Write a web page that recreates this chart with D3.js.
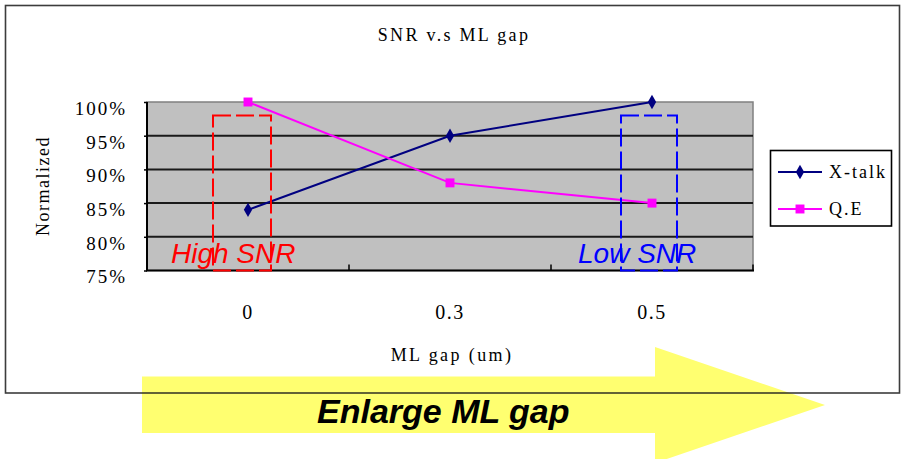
<!DOCTYPE html>
<html><head><meta charset="utf-8">
<script src="https://cdn.jsdelivr.net/npm/d3@7"></script>
<style>
html,body{margin:0;padding:0;background:#fff;}
svg{display:block;}
.serif{font-family:"Liberation Serif","Times New Roman",serif;fill:#000;}
</style></head>
<body>
<svg id="chart" width="902" height="459"></svg>
<script>
// ---- data ----
const categories = ["0", "0.3", "0.5"];
const xtalk = [0.84, 0.95, 1.00];
const qe = [1.00, 0.88, 0.85];
const yTicks = [0.75, 0.80, 0.85, 0.90, 0.95, 1.00];
const yTickLabels = ["75%", "80%", "85%", "90%", "95%", "100%"];
const seriesNames = ["X-talk", "Q.E"];
const title = "SNR v.s ML gap";
const xTitle = "ML gap (um)";
const yTitle = "Normalized";
const regionLabels = ["High SNR", "Low SNR"];
const arrowLabel = "Enlarge ML gap";

const svg = d3.select("#chart");
const W = 902, H = 459;

const plot = {left: 147, right: 753, top: 102, bottom: 270.5};
const x = d3.scaleBand().domain(categories).range([plot.left, plot.right]).padding(0);
const y = d3.scaleLinear().domain([0.75, 1.0]).range([plot.bottom, plot.top]);
const cx = c => x(c) + x.bandwidth() / 2;

// yellow arrow (drawn first, frame on top)
const arrow = {x0: 142, bodyTop: 376.5, bodyBot: 433, headX: 655, headTop: 347, headBot: 463, tipX: 825, tipY: 405};
svg.append("path")
  .attr("d", `M${arrow.x0},${arrow.bodyTop}L${arrow.headX},${arrow.bodyTop}L${arrow.headX},${arrow.headTop}L${arrow.tipX},${arrow.tipY}L${arrow.headX},${arrow.headBot}L${arrow.headX},${arrow.bodyBot}L${arrow.x0},${arrow.bodyBot}Z`)
  .attr("fill", "#ffff70");

// outer frame
svg.append("rect").attr("x", 5.5).attr("y", 5.5).attr("width", 894).attr("height", 387.5)
  .attr("fill", "none").attr("stroke", "#1a1a1a").attr("stroke-width", 1.6).attr("stroke-opacity", 0.85);

// plot background
svg.append("rect").attr("x", plot.left).attr("y", plot.top)
  .attr("width", plot.right - plot.left).attr("height", plot.bottom - plot.top)
  .attr("fill", "#c0c0c0").attr("stroke", "#808080").attr("stroke-width", 1.5);

// gridlines
svg.append("g").selectAll("line").data(yTicks.filter(v => v > 0.75 && v < 1.0)).join("line")
  .attr("x1", plot.left).attr("x2", plot.right)
  .attr("y1", d => y(d)).attr("y2", d => y(d))
  .attr("stroke", "#1a1a1a").attr("stroke-width", 2);

// axes lines
svg.append("line").attr("x1", plot.left).attr("x2", plot.left).attr("y1", plot.top).attr("y2", plot.bottom)
  .attr("stroke", "#000").attr("stroke-width", 2);
svg.append("line").attr("x1", plot.left - 1).attr("x2", plot.right + 1).attr("y1", plot.bottom).attr("y2", plot.bottom)
  .attr("stroke", "#000").attr("stroke-width", 2);

// y axis via d3
const yAxis = d3.axisLeft(y).tickValues(yTicks).tickSize(3).tickPadding(17)
  .tickFormat((d, i) => yTickLabels[i]);
const gy = svg.append("g").attr("transform", `translate(${plot.left},0)`).call(yAxis);
gy.select(".domain").remove();
gy.selectAll(".tick line").attr("stroke", "#000").attr("stroke-width", 1.5);
gy.selectAll(".tick text").attr("class", "serif").attr("font-size", 19).attr("letter-spacing", 2)
  .attr("dy", "0.65em").attr("fill", "#000");

// x axis via d3 (labels at category centers, ticks at band boundaries)
const xAxis = d3.axisBottom(x).tickSize(0).tickPadding(34);
const gx = svg.append("g").attr("transform", `translate(0,${plot.bottom})`).call(xAxis);
gx.select(".domain").remove();
gx.selectAll(".tick text").attr("class", "serif").attr("font-size", 20).attr("letter-spacing", 1.5).attr("fill", "#000");
// inner tick marks at boundaries
const bounds = categories.slice(1).map(c => x(c)).concat([plot.right]);
svg.append("g").selectAll("line").data(bounds).join("line")
  .attr("x1", d => d).attr("x2", d => d).attr("y1", plot.bottom).attr("y2", plot.bottom - 6)
  .attr("stroke", "#000").attr("stroke-width", 1.5);

// titles
svg.append("text").attr("class", "serif").attr("x", 454).attr("y", 41)
  .attr("text-anchor", "middle").attr("font-size", 18).attr("letter-spacing", 2.3).text(title);
svg.append("text").attr("class", "serif").attr("x", 452).attr("y", 361)
  .attr("text-anchor", "middle").attr("font-size", 18).attr("letter-spacing", 2.4).text(xTitle);
svg.append("text").attr("class", "serif")
  .attr("transform", "translate(49,186) rotate(-90)")
  .attr("text-anchor", "middle").attr("font-size", 18).attr("letter-spacing", 1.5).text(yTitle);

// series lines
const line = d3.line().x((d, i) => cx(categories[i])).y(d => y(d));
svg.append("path").datum(xtalk).attr("d", line).attr("fill", "none").attr("stroke", "#000080").attr("stroke-width", 2);
svg.append("path").datum(qe).attr("d", line).attr("fill", "none").attr("stroke", "#ff00ff").attr("stroke-width", 2);

// markers
const diamond = d3.symbol().type(d3.symbolDiamond).size(60);
const square = d3.symbol().type(d3.symbolSquare).size(80);
svg.append("g").selectAll("path").data(xtalk).join("path")
  .attr("d", diamond).attr("transform", (d, i) => `translate(${cx(categories[i])},${y(d)})`)
  .attr("fill", "#000080");
svg.append("g").selectAll("path").data(qe).join("path")
  .attr("d", square).attr("transform", (d, i) => `translate(${cx(categories[i])},${y(d)})`)
  .attr("fill", "#ff00ff");

// SNR region boxes (in data units)
const regions = [
  {cat: "0", offset: -6, halfW: 29, top: 0.98, color: "#ff0000", label: regionLabels[0], lx: 171},
  {cat: "0.5", offset: -3, halfW: 28, top: 0.98, color: "#0000ff", label: regionLabels[1], lx: 578}
];
regions.forEach(r => {
  const c = cx(r.cat) + r.offset;
  svg.append("rect").attr("x", c - r.halfW).attr("y", y(r.top))
    .attr("width", 2 * r.halfW).attr("height", plot.bottom - y(r.top))
    .attr("fill", "none").attr("stroke", r.color).attr("stroke-width", 2)
    .attr("stroke-dasharray", "18,5");
  svg.append("text").attr("x", r.lx).attr("y", 263)
    .attr("font-family", "Liberation Sans, Arial, sans-serif").attr("font-style", "italic")
    .attr("font-size", 28).attr("fill", r.color).text(r.label);
});

// legend
const lg = svg.append("g");
lg.append("rect").attr("x", 770.5).attr("y", 150.5).attr("width", 121).attr("height", 75.5)
  .attr("fill", "#fff").attr("stroke", "#000").attr("stroke-width", 1.6);
const legendRows = [
  {name: seriesNames[0], color: "#000080", sym: diamond, yy: 172},
  {name: seriesNames[1], color: "#ff00ff", sym: square, yy: 209}
];
legendRows.forEach(r => {
  lg.append("line").attr("x1", 778).attr("x2", 822).attr("y1", r.yy).attr("y2", r.yy)
    .attr("stroke", r.color).attr("stroke-width", 2);
  lg.append("path").attr("d", r.sym).attr("transform", `translate(800,${r.yy})`).attr("fill", r.color);
  lg.append("text").attr("class", "serif").attr("x", 829).attr("y", r.yy + 6)
    .attr("font-size", 18).attr("letter-spacing", 2).text(r.name);
});

// arrow label
svg.append("text").attr("x", 317).attr("y", 423)
  .attr("font-family", "Liberation Sans, Arial, sans-serif").attr("font-style", "italic").attr("font-weight", "bold")
  .attr("font-size", 34).attr("fill", "#000").text(arrowLabel);
</script>
</body></html>
